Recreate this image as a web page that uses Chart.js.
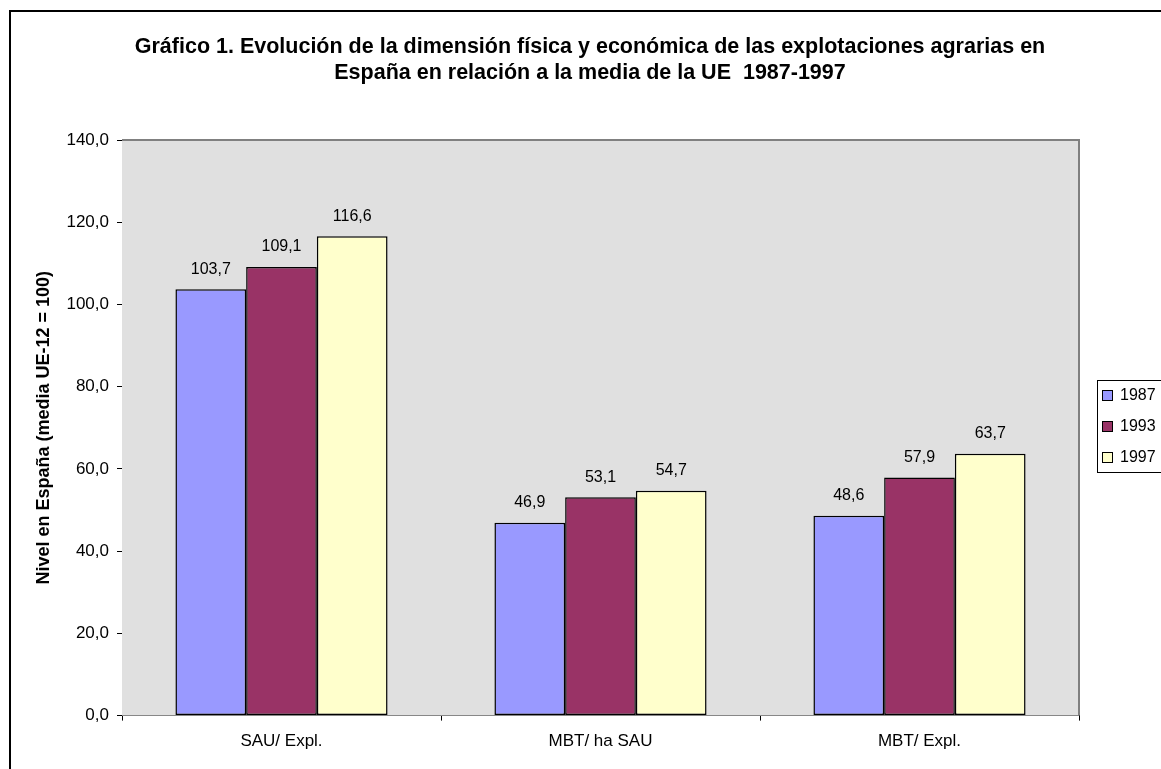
<!DOCTYPE html>
<html>
<head>
<meta charset="utf-8">
<script src="https://cdn.jsdelivr.net/npm/chart.js@4"></script>
<style>
    html, body { margin: 0; padding: 0; background: #fff; overflow: hidden; }
    #wrap { position: relative; width: 1161px; height: 769px; overflow: hidden; }
    #frame { position: absolute; left: 9px; top: 10px; width: 1200px; height: 800px; border: 2px solid #000; }
    canvas { position: absolute; left: 0; top: 0; }
</style>
</head>
<body>
<div id="wrap">
    <div id="frame"></div>
    <canvas id="chart" width="1161" height="769"></canvas>
</div>
<script>
// datos del gráfico
const categorias = ['SAU/ Expl.', 'MBT/ ha SAU', 'MBT/ Expl.'];
const anos = ['1987', '1993', '1997'];
const valores1987 = [103.7, 46.9, 48.6];
const valores1993 = [109.1, 53.1, 57.9];
const valores1997 = [116.6, 54.7, 63.7];
const colores = ['#9999FF', '#993366', '#FFFFCC'];
const titulo = [
    'Gráfico 1. Evolución de la dimensión física y económica de las explotaciones agrarias en',
    'España en relación a la media de la UE  1987-1997'
];
const fuente = '"Liberation Sans", Arial, sans-serif';

const coma = v => v.toFixed(1).replace('.', ',');

// título (centrado sobre toda la figura, no sobre el área de trazado)
const tituloPlugin = {
    id: 'titulo',
    afterDraw(chart) {
        const { ctx } = chart;
        ctx.save();
        ctx.font = 'bold 21.5px ' + fuente;
        ctx.fillStyle = '#000';
        ctx.textAlign = 'center';
        ctx.textBaseline = 'alphabetic';
        titulo.forEach((t, i) => ctx.fillText(t, 590, 53 + i * 25.5));
        ctx.restore();
    }
};

// fondo gris del área de trazado
const fondoPlugin = {
    id: 'fondo',
    beforeDatasetsDraw(chart) {
        const { ctx, chartArea: a } = chart;
        ctx.save();
        ctx.fillStyle = '#E0E0E0';
        ctx.fillRect(a.left, a.top, a.right - a.left, a.bottom - a.top);
        ctx.strokeStyle = '#808080';
        ctx.lineWidth = 2;
        ctx.beginPath();
        ctx.moveTo(a.left, a.top);
        ctx.lineTo(a.right, a.top);
        ctx.lineTo(a.right, a.bottom);
        ctx.stroke();
        ctx.restore();
    }
};

// etiquetas de valor encima de las barras
const etiquetasPlugin = {
    id: 'etiquetas',
    afterDatasetsDraw(chart) {
        const { ctx } = chart;
        ctx.save();
        ctx.font = '16px ' + fuente;
        ctx.fillStyle = '#000';
        ctx.textAlign = 'center';
        ctx.textBaseline = 'middle';
        chart.data.datasets.forEach((ds, i) => {
            chart.getDatasetMeta(i).data.forEach((bar, j) => {
                ctx.fillText(coma(ds.data[j]), bar.x, bar.y - 20);
            });
        });
        ctx.restore();
    }
};

// leyenda con marco a la derecha
const leyendaPlugin = {
    id: 'leyenda',
    afterDraw(chart) {
        const { ctx } = chart;
        const x = 1097, y = 380;
        ctx.save();
        ctx.fillStyle = '#fff';
        ctx.fillRect(x, y, 80, 92);
        ctx.strokeStyle = '#000';
        ctx.lineWidth = 1;
        ctx.strokeRect(x + 0.5, y + 0.5, 80, 92);
        ctx.font = '16px ' + fuente;
        ctx.textBaseline = 'middle';
        chart.data.datasets.forEach((ds, i) => {
            const cy = y + 16 + i * 31;
            ctx.fillStyle = ds.backgroundColor;
            ctx.fillRect(x + 5.5, cy - 5.5, 10, 10);
            ctx.strokeRect(x + 5.5, cy - 5.5, 10, 10);
            ctx.fillStyle = '#000';
            ctx.fillText(ds.label, x + 23, cy);
        });
        ctx.restore();
    }
};

const series = [valores1987, valores1993, valores1997];

new Chart(document.getElementById('chart').getContext('2d'), {
    type: 'bar',
    data: {
        labels: categorias,
        datasets: series.map((d, i) => ({
            label: anos[i],
            data: d,
            backgroundColor: colores[i],
            borderColor: '#000',
            borderWidth: 1.5,
            borderSkipped: false,
            categoryPercentage: 0.665,
            barPercentage: 1
        }))
    },
    options: {
        responsive: false,
        animation: false,
        devicePixelRatio: 1,
        layout: {
            padding: { left: 33, right: 82, top: 140, bottom: 6 }
        },
        scales: {
            x: {
                grid: {
                    display: true,
                    drawOnChartArea: false,
                    color: '#000',
                    tickLength: 5,
                    offset: true
                },
                border: { color: '#000', width: 1 },
                ticks: {
                    color: '#000',
                    font: { family: fuente, size: 17 },
                    padding: 11
                }
            },
            y: {
                min: 0,
                max: 140,
                afterFit(scale) { scale.width = 89; },
                grid: {
                    display: true,
                    drawOnChartArea: false,
                    color: '#000',
                    tickLength: 5
                },
                border: { color: '#000', width: 1 },
                ticks: {
                    stepSize: 20,
                    color: '#000',
                    font: { family: fuente, size: 17 },
                    padding: 8,
                    callback: v => coma(v)
                },
                title: {
                    display: true,
                    text: 'Nivel en España (media UE-12 = 100)',
                    color: '#000',
                    font: { family: fuente, size: 18, weight: 'bold' },
                    padding: 0
                }
            }
        },
        plugins: {
            legend: { display: false },
            tooltip: { enabled: false },
            title: { display: false }
        }
    },
    plugins: [fondoPlugin, etiquetasPlugin, leyendaPlugin, tituloPlugin]
});
</script>
</body>
</html>
